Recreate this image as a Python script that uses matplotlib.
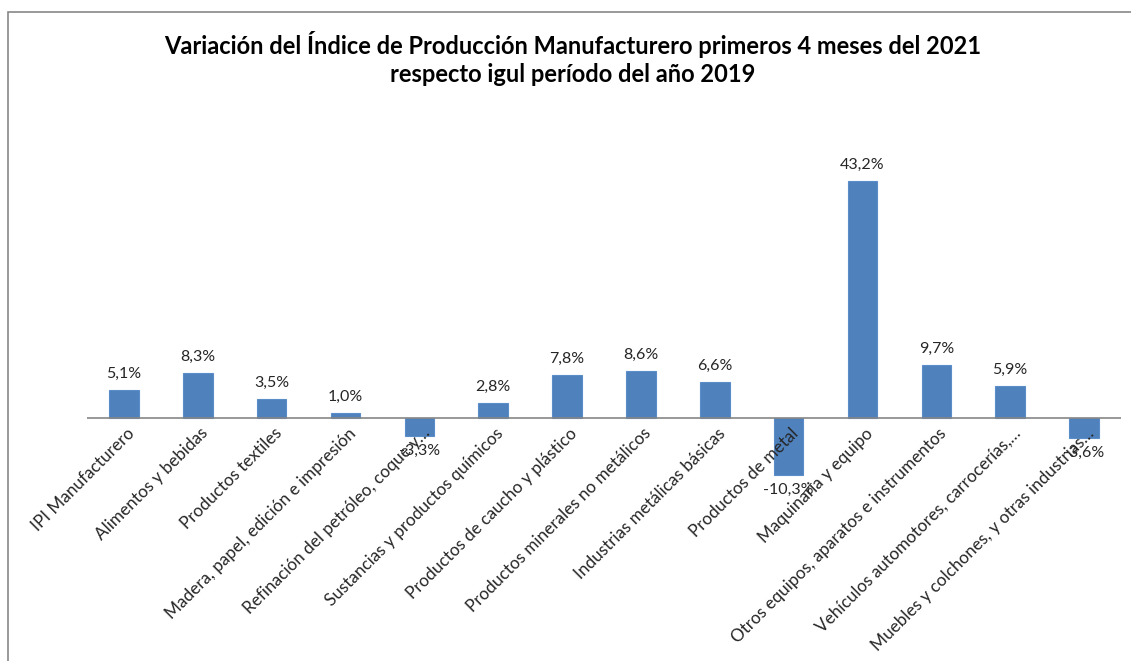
import matplotlib
matplotlib.use('Agg')
import matplotlib.pyplot as plt
from matplotlib.patches import Rectangle

plt.rcParams['font.family'] = ['Lato', 'DejaVu Sans']

categorias = [
    'IPI Manufacturero',
    'Alimentos y bebidas',
    'Productos textiles',
    'Madera, papel, edición e impresión',
    'Refinación del petróleo, coque y…',
    'Sustancias y productos químicos',
    'Productos de caucho y plástico',
    'Productos minerales no metálicos',
    'Industrias metálicas básicas',
    'Productos de metal',
    'Maquinaria y equipo',
    'Otros equipos, aparatos e instrumentos',
    'Vehículos automotores, carrocerías,…',
    'Muebles y colchones, y otras industrias…',
]
variacion = [5.1, 8.3, 3.5, 1.0, -3.3, 2.8, 7.8, 8.6, 6.6, -10.3, 43.2, 9.7, 5.9, -3.6]

fig = plt.figure(figsize=(11.31, 6.61), dpi=100)
ax = fig.add_axes([0.0769, 0.2431, 0.9142, 0.4978])

x = range(len(categorias))
ax.bar(x, variacion, width=0.4, color='#4F81BD', edgecolor='#5B8DC9', linewidth=0.8, zorder=2)

for xi, v in zip(x, variacion):
    txt = f'{v:.1f}%'.replace('.', ',')
    if v >= 0:
        ax.annotate(txt, (xi, v), xytext=(0, 9), textcoords='offset pixels',
                    ha='center', va='bottom', fontsize=11.5, color='#262626')
    else:
        ax.annotate(txt, (xi, v), xytext=(0, -8), textcoords='offset pixels',
                    ha='center', va='top', fontsize=11.5, color='#262626')

ax.set_xlim(-0.5, len(categorias) - 0.5)
ax.set_ylim(-15, 45)
ax.axhline(0, color='#868686', linewidth=1.2, zorder=3)
for s in ax.spines.values():
    s.set_visible(False)
ax.set_yticks([])
ax.set_xticks(list(x))
ax.tick_params(axis='x', length=0, pad=0)
ax.set_xticklabels([])

for xi, c in zip(x, categorias):
    ax.annotate(c, (xi, 0), xytext=(2, -7), textcoords='offset pixels',
                rotation=45, rotation_mode='anchor', ha='right', va='top',
                fontsize=12.3, color='#262626', annotation_clip=False)

fig.text(0.506, 1 - 44 / 661,
         'Variación del Índice de Producción Manufacturero primeros 4 meses del 2021',
         ha='center', va='center', fontsize=17, fontweight='bold', color='#000000')
fig.text(0.506, 1 - 75 / 661, 'respecto igul período del año 2019',
         ha='center', va='center', fontsize=17, fontweight='bold', color='#000000')

borde = Rectangle((8 / 1131, -0.1), 1.2, 1.1 - 12 / 661, transform=fig.transFigure,
                  fill=False, edgecolor='#888888', linewidth=1.2, clip_on=False)
fig.patches.append(borde)

fig.savefig('out.png', dpi=100)
